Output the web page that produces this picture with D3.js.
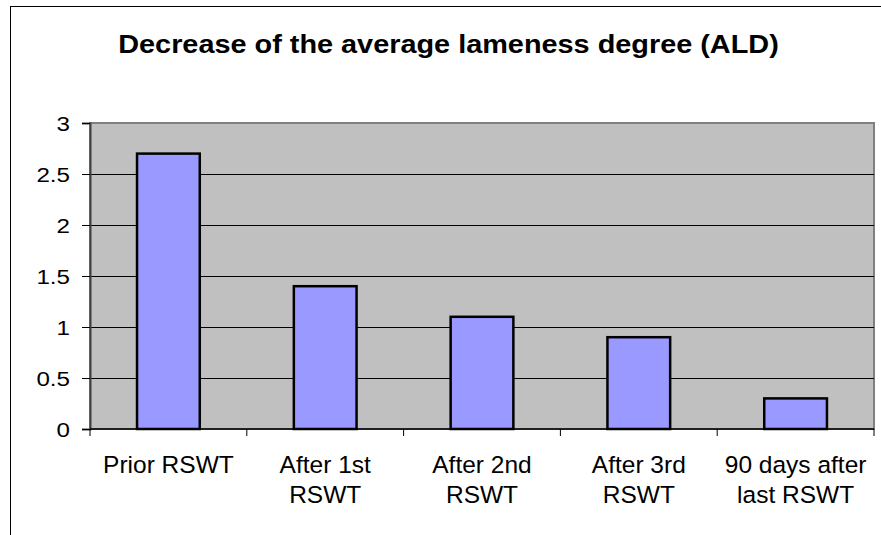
<!DOCTYPE html>
<html><head><meta charset="utf-8">
<script src="https://cdn.jsdelivr.net/npm/d3@7"></script>
<style>body{margin:0;background:#fff}svg{display:block}text{font-family:Arial,"Liberation Sans",sans-serif}</style>
</head><body>
<script>
const categories = [["Prior RSWT"], ["After 1st","RSWT"], ["After 2nd","RSWT"], ["After 3rd","RSWT"], ["90 days after","last RSWT"]];
const values = [2.7, 1.4, 1.1, 0.9, 0.3];
const yTicks = [0, 0.5, 1, 1.5, 2, 2.5, 3];
const title = "Decrease of the average lameness degree (ALD)";

const W = 881, H = 535;
const svg = d3.select("body").append("svg").attr("width", W).attr("height", H);
svg.append("rect").attr("x", 10.5).attr("y", 6.5).attr("width", 900).attr("height", 600)
  .attr("fill", "#fff").attr("stroke", "#000").attr("stroke-width", 1);

const L = 90, R = 874, T = 123, B = 429;
const x = d3.scaleBand().domain(d3.range(values.length)).range([L, R]).paddingInner(0.6).paddingOuter(0.3);
const y = d3.scaleLinear().domain([0, 3]).range([B, T]);

svg.append("rect").attr("x", L).attr("y", T).attr("width", R - L).attr("height", B - T)
  .attr("fill", "#C0C0C0").attr("stroke", "#808080").attr("stroke-width", 2);

// gridlines
svg.append("g").selectAll("line").data(yTicks.filter(d => d > 0 && d < 3)).join("line")
  .attr("x1", L).attr("x2", R).attr("y1", d => Math.round(y(d)) + 0.5).attr("y2", d => Math.round(y(d)) + 0.5)
  .attr("stroke", "#000").attr("stroke-width", 1);

// bars
svg.append("g").selectAll("rect").data(values).join("rect")
  .attr("x", (d, i) => x(i)).attr("width", x.bandwidth())
  .attr("y", d => y(d)).attr("height", d => y(0) - y(d))
  .attr("fill", "#9999FF").attr("stroke", "#000").attr("stroke-width", 2.5);

// y axis
const yAxis = svg.append("g").attr("transform", `translate(${L},0)`)
  .call(d3.axisLeft(y).tickValues(yTicks).tickSize(8).tickPadding(12).tickFormat(d3.format("")));
yAxis.select(".domain").attr("stroke", "#404040").attr("stroke-width", 2);
yAxis.selectAll(".tick line").attr("stroke", "#000");
yAxis.selectAll(".tick text").attr("font-size", 21).attr("fill", "#000")
  .attr("font-family", "Arial, 'Liberation Sans', sans-serif").attr("dy", "0.36em")
  .attr("x", 0).attr("transform", "translate(-20,0) scale(1.15,1)");

// x axis line and ticks at band boundaries
const bounds = d3.range(values.length + 1).map(i => L + i * (R - L) / values.length);
svg.append("line").attr("x1", L).attr("x2", R).attr("y1", B).attr("y2", B).attr("stroke", "#000").attr("stroke-width", 1.5);
svg.append("g").selectAll("line").data(bounds).join("line")
  .attr("x1", d => d).attr("x2", d => d).attr("y1", B).attr("y2", B + 7)
  .attr("stroke", "#000").attr("stroke-width", 1);

// x labels
const lab = svg.append("g").selectAll("text").data(categories).join("text")
  .attr("text-anchor", "middle").attr("font-size", 24.5).attr("fill", "#000")
  .attr("transform", (d, i) => `translate(${x(i) + x.bandwidth() / 2},0)`);
lab.selectAll("tspan").data(d => d).join("tspan")
  .attr("x", 0).attr("y", (d, j) => 473 + j * 30).text(d => d);

// title
svg.append("text").attr("text-anchor", "middle")
  .attr("transform", "translate(448.5,53) scale(1.11,1)")
  .attr("font-size", 26).attr("font-weight", "bold").attr("fill", "#000").text(title);
</script>
</body></html>
